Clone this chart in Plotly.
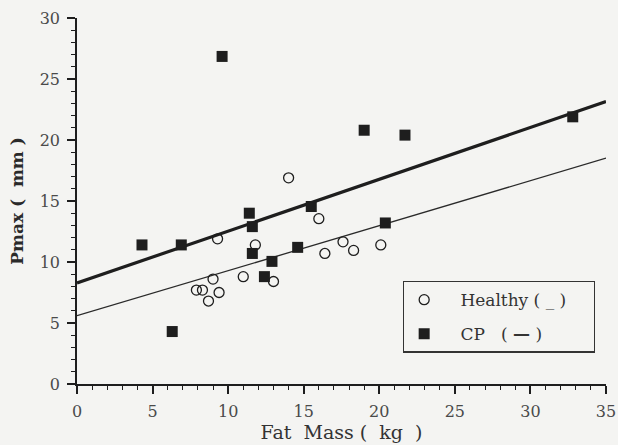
import plotly.graph_objects as go

# Healthy subjects
healthy_fat = [9.3, 11.8, 9.0, 7.9, 8.3, 8.7, 9.4, 11.0, 13.0, 14.0, 16.0, 17.6, 18.3, 16.4, 20.1]
healthy_pmax = [11.9, 11.4, 8.6, 7.7, 7.7, 6.8, 7.5, 8.8, 8.4, 16.9, 13.55, 11.65, 10.95, 10.7, 11.4]

# CP patients
cp_fat = [4.3, 6.9, 6.3, 9.6, 11.4, 11.6, 11.6, 12.4, 12.9, 14.6, 15.5, 19.0, 20.4, 21.7, 32.8]
cp_pmax = [11.4, 11.4, 4.3, 26.85, 14.0, 12.9, 10.7, 8.8, 10.05, 11.2, 14.55, 20.8, 13.2, 20.4, 21.9]

# regression lines (intercept, slope) as drawn
healthy_fit = [5.6, 0.369]
cp_fit = [8.28, 0.425]
fit_x = [0, 35]

x_ticks = [0, 5, 10, 15, 20, 25, 30, 35]
y_ticks = [0, 5, 10, 15, 20, 25, 30]

INK = "#1e1e1e"
BG = "#f4f4f2"
FONT = "DejaVu Serif"
NB = "\u00a0"

fig = go.Figure()

fig.add_trace(go.Scatter(
    x=fit_x, y=[healthy_fit[0] + healthy_fit[1] * v for v in fit_x],
    mode="lines", line=dict(color="#2a2a2a", width=1.3), showlegend=False, hoverinfo="skip"))
fig.add_trace(go.Scatter(
    x=fit_x, y=[cp_fit[0] + cp_fit[1] * v for v in fit_x],
    mode="lines", line=dict(color=INK, width=3.2), showlegend=False, hoverinfo="skip"))

fig.add_trace(go.Scatter(
    x=healthy_fat, y=healthy_pmax, mode="markers",
    name=NB * 3 + "Healthy" + NB + "(" + NB + "_" + NB + ")" + NB * 4,
    legendgroup="h",
    marker=dict(symbol="circle-open", size=10, color=INK, line=dict(width=1.3, color=INK))))
fig.add_trace(go.Scatter(
    x=cp_fat, y=cp_pmax, mode="markers",
    name=NB * 3 + "CP" + NB * 3 + "(" + NB + "<b>\u2014</b>" + NB + ")",
    legendgroup="c",
    marker=dict(symbol="square", size=11, color=INK)))

axis_common = dict(
    showline=True, linecolor=INK, linewidth=1.5,
    ticks="outside", ticklen=8, tickwidth=1.5, tickcolor=INK,
    showgrid=False, zeroline=False, automargin=False,
    tickfont=dict(family=FONT, size=16, color="#4a4a4a"),
    minor=dict(ticks="outside", ticklen=4, tickwidth=1.2, tickcolor=INK, dtick=1, showgrid=False),
)

fig.update_layout(
    width=618, height=445,
    margin=dict(l=77, r=12, t=18, b=61),
    paper_bgcolor=BG, plot_bgcolor=BG,
    font=dict(family=FONT, color=INK),
    xaxis=dict(range=[0, 35], tickvals=x_ticks, ticklabelstandoff=4,
               title=dict(text="Fat" + NB * 2 + "Mass" + NB + "(" + NB * 2 + "kg" + NB * 2 + ")",
                          font=dict(family=FONT, size=19, color="#333"), standoff=4),
               **axis_common),
    yaxis=dict(range=[0, 30], tickvals=y_ticks, ticklabelstandoff=4,
               title=dict(text="<b>Pmax" + NB + "(" + NB * 2 + "mm" + NB + ")</b>",
                          font=dict(family=FONT, size=17, color="#2a2a2a"), standoff=12),
               **axis_common),
    legend=dict(x=0.616, y=0.282, xanchor="left", yanchor="top",
                bgcolor=BG, bordercolor="#333", borderwidth=1.3,
                font=dict(family=FONT, size=17, color="#333"),
                tracegroupgap=9, itemwidth=30),
    showlegend=True,
)

fig.write_html("out.html")
